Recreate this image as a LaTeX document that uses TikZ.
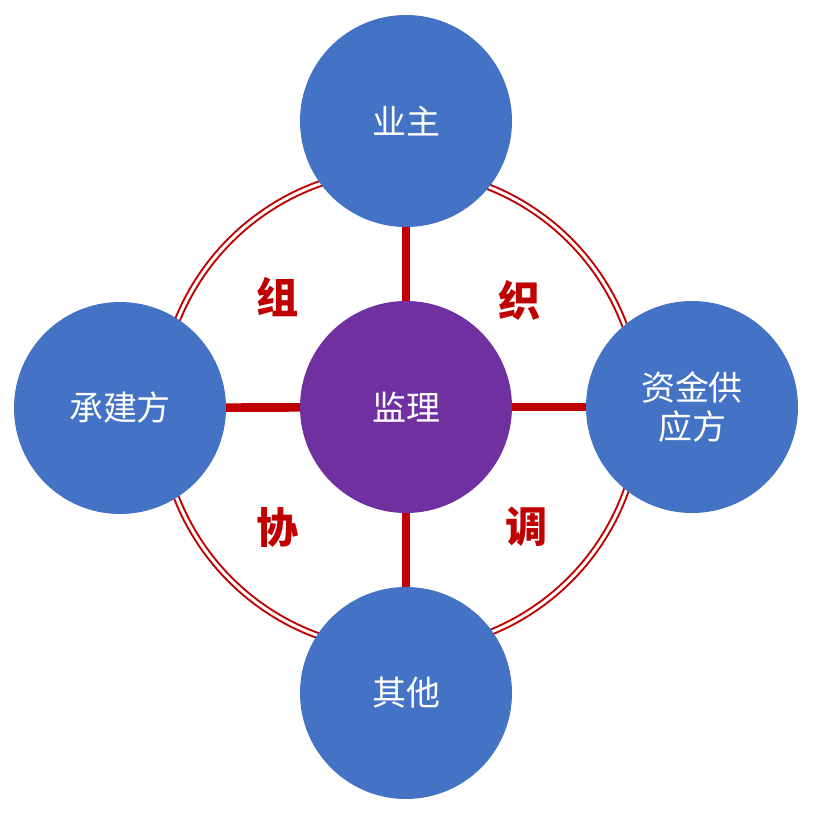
\documentclass[tikz,border=0pt]{standalone}
\usepackage{fontspec}
\setmainfont{Noto Sans CJK SC}
\definecolor{bl}{HTML}{4472C4}
\definecolor{pu}{HTML}{7030A0}
\definecolor{rd}{HTML}{C00000}
\begin{document}
\begin{tikzpicture}[x=0.3mm,y=-0.3mm,
  party/.style={circle,fill=bl,minimum size=63.6mm,inner sep=0,text=white,font=\fontsize{29}{34}\selectfont,align=center},
  bar/.style={rd,line width=2.6mm},
  word/.style={text=rd,font=\fontsize{36}{40}\selectfont\bfseries}]
\useasboundingbox (0,0) rectangle (814,814);
\draw[rd,double=white,line width=0.6mm,double distance=0.9mm] (400,410) circle[radius=240];
\node[party] (top) at (406,121) {业主};
\node[party] (left) at (120,408) {承建方};
\node[party] (right) at (692,407) {资金供\\应方};
\node[party] (bot) at (406,693) {其他};
\node[party,fill=pu] (c) at (406,407) {监理};
\draw[bar] (top) -- (c);
\draw[bar] (c) -- (bot);
\draw[bar] (left) -- (c);
\draw[bar] (c) -- (right);
\node[word] (w1) at (278,297) {组};
\node[word] (w2) at (520,300) {织};
\node[word] (w3) at (278,527) {协};
\node[word] (w4) at (527,527) {调};
\end{tikzpicture}
\end{document}
